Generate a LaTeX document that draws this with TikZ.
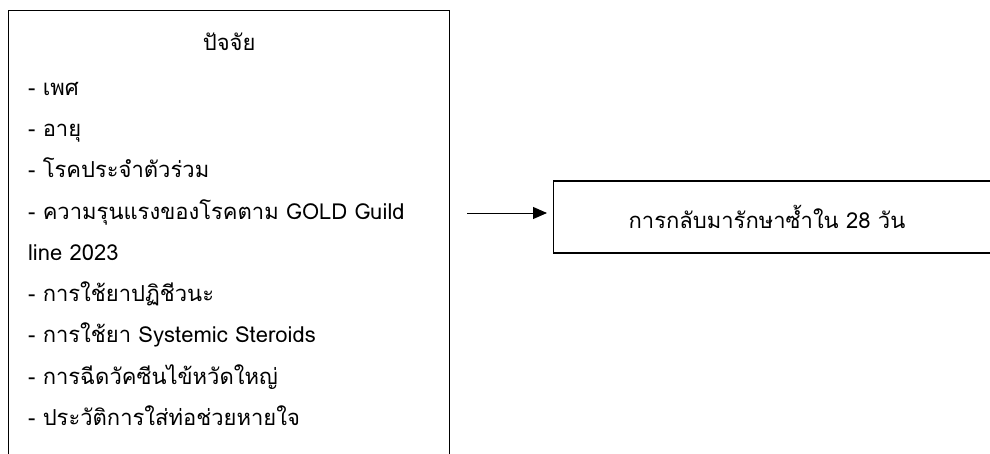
\documentclass[tikz,border=0pt]{standalone}
\usepackage{fontspec}
\newfontfamily\thaifont[Script=Thai]{Loma}
\usetikzlibrary{arrows.meta}
\tikzset{%
  >={Triangle[width=12pt,length=14pt]},
  % Specifications for style of nodes:
        base/.style = {rectangle, draw=black, line width=1.2pt,
                       font={\thaifont\fontsize{22}{41.25}\selectfont}},
     factors/.style = {base, anchor=north west, align=left,
                       text width=402pt, inner xsep=19.5pt, inner ysep=22pt},
     outcome/.style = {base, anchor=west, align=left,
                       text width=300pt, inner xsep=75pt,
                       minimum height=72pt},
}

\begin{document}
\begin{tikzpicture}[x=1pt, y=1pt]
\clip (0,0) rectangle (990,-453);
  % Specification of nodes (position, etc.)

% last empty line keeps the bottom edge below the page
\node (factors) at (8,-10) [factors] {%
  {\centering ปัจจัย\par}\vspace{4pt}
  - เพศ\\
  - อายุ\\
  - โรคประจำตัวร่วม\\
  - ความรุนแรงของโรคตาม GOLD Guild\\
  line 2023\\
  - การใช้ยาปฏิชีวนะ\\
  - การใช้ยา Systemic Steroids\\
  - การฉีดวัคซีนไข้หวัดใหญ่\\
  - ประวัติการใส่ท่อช่วยหายใจ\\
  ~};

\node (outcome) at (553,-217) [outcome] {การกลับมารักษาซ้ำใน 28 วัน};

\draw[->, line width=1pt, shorten <=17pt, shorten >=6pt]
  ([yshift=4pt] factors.east |- outcome.west) -- ([yshift=4pt] outcome.west);
\end{tikzpicture}
\end{document}
